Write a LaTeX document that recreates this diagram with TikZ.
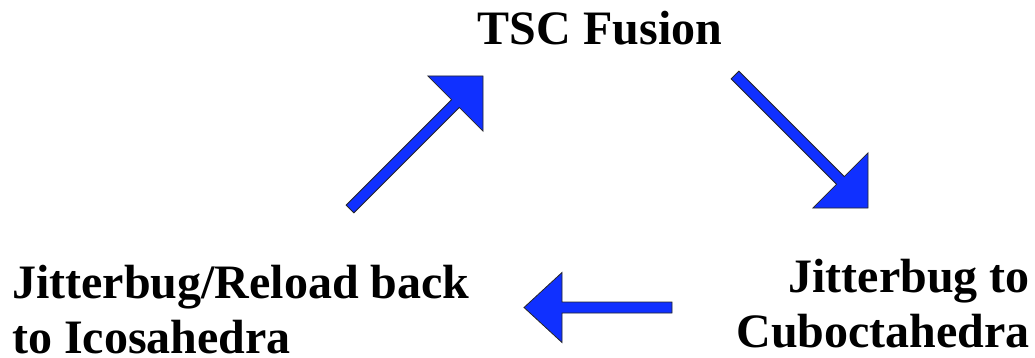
\documentclass[tikz,border=0pt]{standalone}
\usepackage{fontspec}
\setmainfont{Liberation Serif}
\usetikzlibrary{calc}
\definecolor{arrblue}{RGB}{16,48,255}
\tikzset{
  lbl/.style={font=\fontsize{48}{55}\selectfont\bfseries, inner sep=0pt, text=black},
  blockarrow/.style={fill=arrblue, draw=black!85, line width=0.8pt, line join=miter}
}
% #1 start, #2 end, #3 shaft half-width, #4 head half-width, #5 head length
\newcommand{\myblockarrow}[5]{%
  \coordinate (H) at ($(#2)!#5!(#1)$);
  \path[blockarrow]
    ($(#1)!#3!90:(#2)$) -- ($(H)!#3!90:(#2)$) -- ($(H)!#4!90:(#2)$) --
    (#2) -- ($(H)!#4!-90:(#2)$) -- ($(H)!#3!-90:(#2)$) -- ($(#1)!#3!-90:(#2)$) -- cycle;
}
\begin{document}
\begin{tikzpicture}[x=1pt,y=-1pt]
\useasboundingbox (0,0) rectangle (1035,358);
\node[lbl, anchor=base] (top) at (600,45) {TSC Fusion};
\node[lbl, align=left, anchor=base west] (left) at (12,353) {Jitterbug/Reload back\\to Icosahedra};
\node[lbl, align=right, anchor=base east] (right) at (1030,347) {Jitterbug to\\Cuboctahedra};
\coordinate (a1s) at (350,209);
\coordinate (a1e) at (483,76);
\coordinate (a2s) at (735,75);
\coordinate (a2e) at (868,208);
\coordinate (a3s) at (672,307.5);
\coordinate (a3e) at (524,307.5);
\myblockarrow{a1s}{a1e}{5.5pt}{39pt}{39pt}
\myblockarrow{a2s}{a2e}{5.5pt}{39pt}{39pt}
\myblockarrow{a3s}{a3e}{5.5pt}{35pt}{38pt}
\end{tikzpicture}
\end{document}
